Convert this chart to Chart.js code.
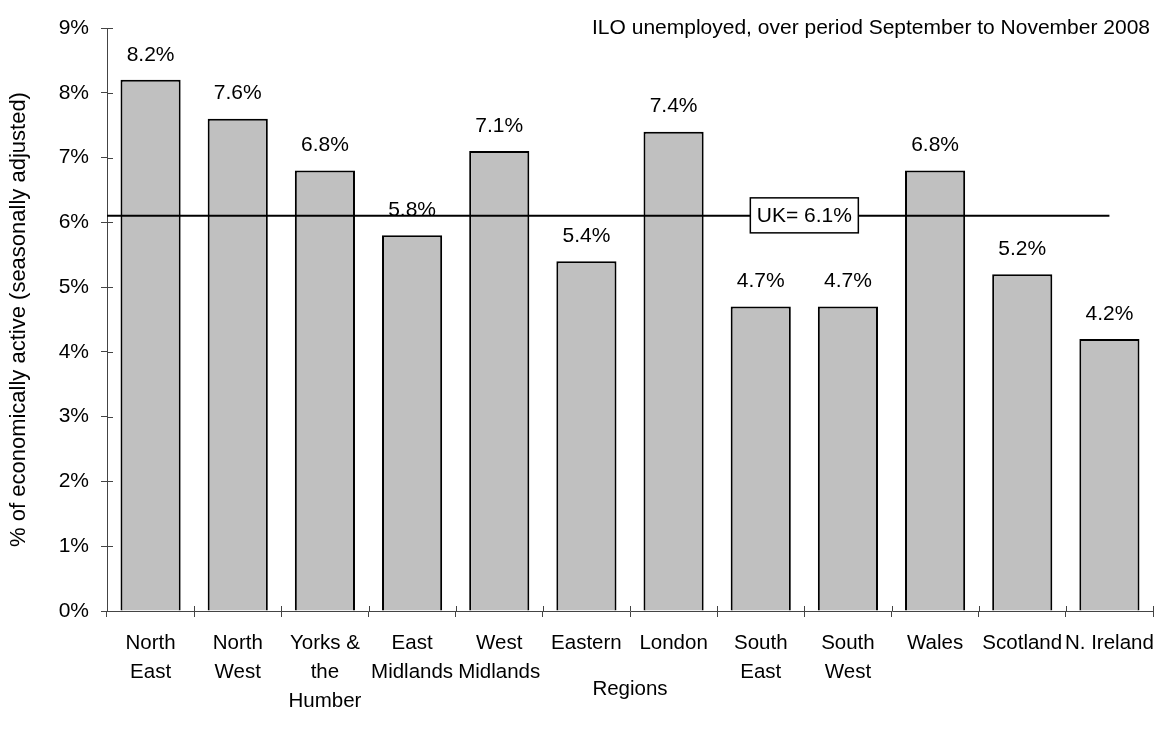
<!DOCTYPE html>
<html>
<head>
<meta charset="utf-8">
<script src="https://cdn.jsdelivr.net/npm/chart.js@4"></script>
<style>
  body { margin: 0; background: #fff; }
  canvas { display: block; }
</style>
</head>
<body>
<canvas id="unemployment-chart" width="1161" height="731"></canvas>
<script>
// regional ILO unemployment rates, Sep-Nov 2008
var regions = [
    ["North", "East"], ["North", "West"], ["Yorks &", "the", "Humber"], ["East", "Midlands"],
    ["West", "Midlands"], "Eastern", "London", ["South", "East"], ["South", "West"],
    "Wales", "Scotland", "N. Ireland"
];
var rates = [8.2, 7.6, 6.8, 5.8, 7.1, 5.4, 7.4, 4.7, 4.7, 6.8, 5.2, 4.2];
var ukRate = 6.1;
var yTicks = [0, 1, 2, 3, 4, 5, 6, 7, 8, 9];

var FONT = "'Liberation Sans', Arial, sans-serif";
Chart.defaults.font.family = FONT;
Chart.defaults.color = "#000";

// value labels over the bars, the UK average line with its boxed label, heading
var extras = {
    id: "extras",
    afterDatasetsDraw: function (chart) {
        var c = chart.ctx, x = chart.scales.x, y = chart.scales.y, area = chart.chartArea;
        c.save();
        c.font = "21px " + FONT;
        c.fillStyle = "#000";
        c.textAlign = "center";
        c.textBaseline = "middle";
        chart.getDatasetMeta(0).data.forEach(function (bar, i) {
            c.fillText(rates[i].toFixed(1) + "%", bar.x, bar.y - 25);
        });

        var ly = y.getPixelForValue(ukRate);
        c.strokeStyle = "#000";
        c.lineWidth = 2;
        c.beginPath();
        c.moveTo(area.left, ly);
        c.lineTo(x.getPixelForValue(rates.length - 1), ly);
        c.stroke();

        var bx = (x.getPixelForValue(7) + x.getPixelForValue(8)) / 2;
        c.fillStyle = "#fff";
        c.fillRect(bx - 54, ly - 18, 108, 35);
        c.lineWidth = 1.5;
        c.strokeRect(bx - 54, ly - 18, 108, 35);
        c.fillStyle = "#000";
        c.fillText("UK= " + ukRate.toFixed(1) + "%", bx, ly);

        // short inner halves of the axis ticks
        c.strokeStyle = "#444";
        c.lineWidth = 1;
        c.beginPath();
        yTicks.forEach(function (v) {
            var py = Math.round(y.getPixelForValue(v)) + 0.5;
            c.moveTo(area.left, py);
            c.lineTo(area.left + 6, py);
        });
        for (var i = 0; i <= rates.length; i++) {
            var px = Math.round(x.getPixelForValue(i - 0.5)) + 0.5;
            c.moveTo(px, area.bottom);
            c.lineTo(px, area.bottom - 5);
        }
        c.stroke();

        c.font = "21px " + FONT;
        c.textAlign = "right";
        c.fillText("ILO unemployed, over period September to November 2008", 1150, 28);
        c.restore();
    }
};

new Chart(document.getElementById("unemployment-chart"), {
    type: "bar",
    data: {
        labels: regions,
        datasets: [{
            data: rates,
            backgroundColor: "#c0c0c0",
            borderColor: "#000",
            borderWidth: 2,
            barPercentage: 0.69,
            categoryPercentage: 1
        }]
    },
    options: {
        responsive: false,
        animation: false,
        layout: { padding: { top: 28, right: 8, left: 0, bottom: 0 } },
        plugins: {
            legend: { display: false },
            tooltip: { enabled: false }
        },
        scales: {
            x: {
                afterFit: function (s) {
                    s.height = 120;
                    s.paddingLeft = 0;
                    s.paddingRight = 0;
                },
                grid: { drawOnChartArea: false, offset: true, color: "#444", tickLength: 6 },
                border: { color: "#444", width: 1 },
                ticks: {
                    maxRotation: 0,
                    autoSkip: false,
                    padding: 12,
                    font: { size: 20.5, lineHeight: 1.41 }
                },
                title: {
                    display: true,
                    text: "Regions",
                    font: { size: 20.5 },
                    padding: { top: 0, bottom: 29 }
                }
            },
            y: {
                min: 0,
                max: 9,
                afterFit: function (s) { s.width = 107; },
                afterBuildTicks: function (s) {
                    s.ticks = yTicks.map(function (v) { return { value: v }; });
                },
                grid: { drawOnChartArea: false, color: "#444", tickLength: 6 },
                border: { color: "#444", width: 1 },
                ticks: {
                    padding: 12,
                    font: { size: 21 },
                    callback: function (v) { return v + "%"; }
                },
                title: {
                    display: true,
                    text: "% of economically active (seasonally adjusted)",
                    font: { size: 22 },
                    padding: { top: 6, bottom: 0 }
                }
            }
        }
    },
    plugins: [extras]
});
</script>
</body>
</html>
